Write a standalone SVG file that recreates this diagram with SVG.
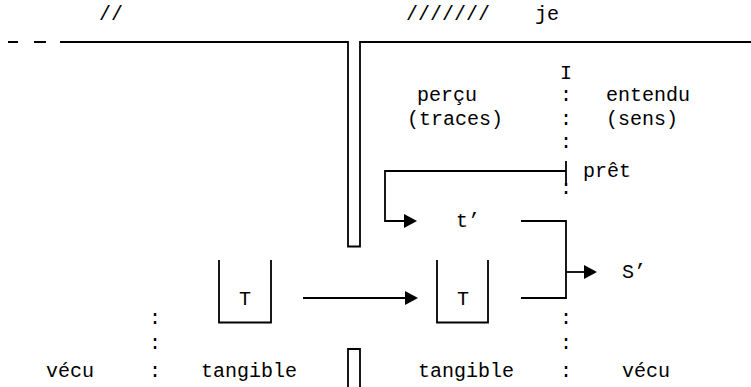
<svg xmlns="http://www.w3.org/2000/svg" width="751" height="387" viewBox="0 0 751 387">
  <defs>
    <style>
      .ln { fill: none; stroke: #000; stroke-width: 1.8; }
      .hd { fill: #000; stroke: none; }
      text { font-family: "Courier New", "Nimbus Mono PS", "FreeMono", "Liberation Mono", monospace; font-size: 20px; fill: #000; }
      .c { text-anchor: middle; }
    </style>
  </defs>
  <rect width="751" height="387" fill="#fff"/>

  <!-- barrier: the upper bar with its slot, and the lower stub -->
  <g id="barrier">
    <path class="ln" d="M8,42 H18 M34,42 H46"/>
    <path class="ln" d="M60,42 H348 V246.5 H360 V42 H751"/>
    <path class="ln" d="M348,387 V349 H360 V387"/>
    <text x="99" y="20">//</text>
    <text x="406" y="20">///////</text>
    <text x="535" y="20">je</text>
  </g>

  <!-- dotted divider column -->
  <g id="divider">
    <text class="c" x="566" y="79">I</text>
    <text class="c" x="566" y="101">:</text>
    <text class="c" x="566" y="125">:</text>
    <text class="c" x="566" y="148">:</text>
    <text class="c" x="566" y="194">:</text>
    <text class="c" x="566" y="324">:</text>
    <text class="c" x="566" y="349">:</text>
    <text class="c" x="566" y="377">:</text>
    <text class="c" x="155" y="324">:</text>
    <text class="c" x="155" y="349">:</text>
    <text class="c" x="155" y="377">:</text>
  </g>

  <g id="labels">
    <text x="417" y="101">perçu</text>
    <text x="407" y="125">(traces)</text>
    <text x="606" y="101">entendu</text>
    <text x="606" y="125">(sens)</text>
    <text x="46" y="377">vécu</text>
    <text x="201" y="377">tangible</text>
    <text x="418" y="377">tangible</text>
    <text x="622" y="377">vécu</text>
  </g>

  <g id="node-T1">
    <path class="ln" d="M219,260 V322.5 H271 V260"/>
    <text class="c" x="245" y="305">T</text>
  </g>

  <g id="node-T2">
    <path class="ln" d="M437,260 V322.5 H488 V260"/>
    <text class="c" x="463" y="305">T</text>
  </g>

  <g id="node-pret">
    <text x="583" y="177">prêt</text>
  </g>

  <g id="node-t">
    <text x="456" y="227">t’</text>
  </g>

  <g id="node-S">
    <text x="622" y="278">S’</text>
  </g>

  <g id="connectors">
    <!-- T to T -->
    <path class="ln" d="M303,298 H406"/>
    <polygon class="hd" points="405,291 418,298 405,305"/>
    <!-- prêt loop back to t' -->
    <path class="ln" d="M566,161 V183"/>
    <path class="ln" d="M566,171 H385 V221 H405"/>
    <polygon class="hd" points="404,214 417,221 404,228"/>
    <!-- t' and T join into S' -->
    <path class="ln" d="M521,221 H566 V298 H521"/>
    <path class="ln" d="M566,272 H585"/>
    <polygon class="hd" points="584,265 597,272 584,279"/>
  </g>
</svg>
